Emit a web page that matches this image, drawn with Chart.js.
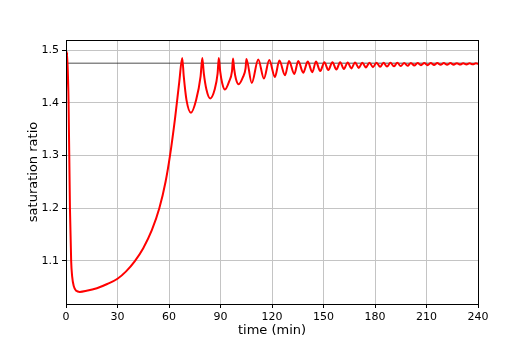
<!DOCTYPE html>
<html>
<head>
<meta charset="utf-8">
<script src="https://cdn.jsdelivr.net/npm/chart.js@4"></script>
<style>
  html, body { margin: 0; padding: 0; background: #fff; }
  #wrap { width: 532px; height: 342px; }
</style>
</head>
<body>
<div id="wrap"><canvas id="chart" width="532" height="342"></canvas></div>
<script>
// data
const timeMin = [0, 0.7, 1.5, 2.3, 3.0, 3.6, 4.5, 6, 8, 12, 18, 24, 30, 35, 40, 45, 50, 54.4, 58, 60.6, 63.5, 66,
  67.7, 68.6, 70.2, 72.8, 75.8, 78.4, 79.4, 80.3, 81.8, 84.0, 86.6, 88.3, 89.0, 89.8, 91.0, 92.6, 95.0, 96.7,
  97.3, 98.0, 99.0, 100.6, 103.0, 104.6, 105.1, 108.2, 112.0, 115.3, 118.4, 121.7, 124.3, 127.6, 129.9, 133.0,
  135.3, 138.2, 140.8, 143.5, 145.6, 148.1, 150.5, 152.8, 155.2, 157.5, 159.7, 161.9, 164.1, 166.2, 168.4,
  170.5, 172.6, 174.7, 176.8, 178.8, 180.9, 183.0, 185.0, 187.0, 189.0, 191.0, 193.0, 195.0, 197.0, 199.0,
  200.9, 202.9, 204.8, 206.8, 208.7, 210.6, 212.5, 214.4, 216.3, 218.2, 220.1, 222.0, 223.9, 225.8, 227.7,
  229.6, 231.4, 233.3, 235.1, 237.0, 238.8, 240];
const satRatio = [1.42, 1.496, 1.40, 1.20, 1.10, 1.07, 1.052, 1.043, 1.041, 1.043, 1.048, 1.056, 1.066, 1.08,
  1.099, 1.124, 1.158, 1.20, 1.25, 1.30, 1.37, 1.44,
  1.485, 1.45, 1.405, 1.381, 1.405, 1.45, 1.485, 1.455, 1.425, 1.408, 1.425, 1.455, 1.485, 1.46, 1.437, 1.425,
  1.44, 1.46, 1.484, 1.463, 1.445, 1.435, 1.448, 1.465, 1.483, 1.4375, 1.482, 1.446, 1.481, 1.449, 1.480,
  1.452, 1.479, 1.4545, 1.479, 1.457, 1.478, 1.458, 1.478, 1.460, 1.477, 1.462, 1.477, 1.463, 1.477, 1.464,
  1.4765, 1.465, 1.4765, 1.466, 1.476, 1.467, 1.476, 1.4675, 1.476, 1.468, 1.476, 1.4685, 1.4758, 1.469,
  1.4756, 1.4695, 1.4755, 1.470, 1.4755, 1.4705, 1.4754, 1.471, 1.4753, 1.4712, 1.4753, 1.4715, 1.4752,
  1.4718, 1.4752, 1.472, 1.4752, 1.4722, 1.4751, 1.4724, 1.4751, 1.4726, 1.475, 1.4728, 1.475, 1.4735];
const refLevel = 1.475;
const xTicks = [0, 30, 60, 90, 120, 150, 180, 210, 240];
const yTicks = [1.1, 1.2, 1.3, 1.4, 1.5];

const FONT = 'DejaVu Sans';

// frame around the plot area (matplotlib spines)
const frame = {
  id: 'frame',
  afterDraw(chart) {
    const a = chart.chartArea, c = chart.ctx;
    c.save();
    c.strokeStyle = '#000';
    c.lineWidth = 1;
    c.strokeRect(Math.round(a.left) + 0.5, Math.round(a.top) + 0.5,
      Math.round(a.right - a.left), Math.round(a.bottom - a.top));
    c.restore();
  }
};

const ctx = document.getElementById('chart').getContext('2d');
new Chart(ctx, {
  type: 'line',
  data: {
    datasets: [{
      data: timeMin.map((t, i) => ({ x: t, y: satRatio[i] })),
      borderColor: '#ff0000',
      borderWidth: 2,
      pointRadius: 0,
      cubicInterpolationMode: 'monotone',
      order: 1
    }, {
      data: [{ x: 0, y: refLevel }, { x: 240, y: refLevel }],
      borderColor: '#222',
      borderWidth: 0.8,
      pointRadius: 0,
      order: 2
    }]
  },
  options: {
    responsive: false,
    animation: false,
    layout: { padding: { top: 40, right: 54, left: 26, bottom: 0 } },
    plugins: { legend: { display: false }, tooltip: { enabled: false } },
    scales: {
      x: {
        type: 'linear',
        min: 0, max: 240,
        afterBuildTicks: s => { s.ticks = xTicks.map(v => ({ value: v })); },
        afterFit: s => { s.height = 38; },
        border: { display: false },
        grid: { color: '#c4c4c4', lineWidth: 1, tickColor: '#000', tickLength: 4 },
        ticks: { color: '#000', font: { family: FONT, size: 11 }, padding: 3, maxRotation: 0 },
        title: { display: true, text: 'time (min)', color: '#000', font: { family: FONT, size: 13 }, padding: { top: 0, bottom: 4 } }
      },
      y: {
        min: 1.018, max: 1.519,
        afterBuildTicks: s => { s.ticks = yTicks.map(v => ({ value: v })); },
        afterFit: s => { s.width = 40; },
        border: { display: false },
        grid: { color: '#c4c4c4', lineWidth: 1, tickColor: '#000', tickLength: 4 },
        ticks: { color: '#000', font: { family: FONT, size: 11 }, padding: 3, callback: v => v.toFixed(1) },
        title: { display: true, text: 'saturation ratio', color: '#000', font: { family: FONT, size: 13 }, padding: { top: 0, bottom: 0 } }
      }
    }
  },
  plugins: [frame]
});
</script>
</body>
</html>
